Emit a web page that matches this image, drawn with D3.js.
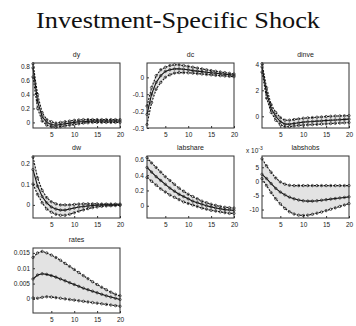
<!DOCTYPE html>
<html>
<head>
<meta charset="utf-8">
<script src="https://cdn.jsdelivr.net/npm/d3@7"></script>
<style>
  html, body { margin: 0; padding: 0; background: #fff; }
  svg { display: block; }
  .tick text { font-family: "Liberation Sans", Arial, sans-serif; font-size: 6.5px; fill: #222; }
</style>
</head>
<body>
<svg id="chart" width="356" height="326"></svg>
<script>
// Horizon (quarters after the shock)
const periods = [1,2,3,4,5,6,7,8,9,10,11,12,13,14,15,16,17,18,19,20];
const xTicks = [5, 10, 15, 20];

// Impulse responses: median and band bounds
const dyMed = [0.78,0.3,0.08,0.0,-0.03,-0.04,-0.03,-0.02,-0.01,0.0,0.01,0.01,0.015,0.02,0.02,0.02,0.02,0.02,0.02,0.02];
const dyUp  = [0.84,0.4,0.14,0.04,0.01,-0.01,0.0,0.01,0.02,0.03,0.035,0.04,0.04,0.04,0.04,0.04,0.04,0.04,0.04,0.04];
const dyLo  = [0.65,0.2,0.02,-0.04,-0.06,-0.07,-0.06,-0.05,-0.04,-0.03,-0.02,-0.01,-0.005,0.0,0.0,0.0,0.0,0.0,0.0,0.0];
const dyTicks = [0, 0.2, 0.4, 0.6, 0.8];

const dcMed = [-0.22,-0.1,-0.03,0.01,0.035,0.045,0.05,0.05,0.048,0.045,0.04,0.037,0.034,0.03,0.027,0.024,0.021,0.018,0.015,0.012];
const dcUp  = [-0.17,-0.06,0.01,0.045,0.06,0.07,0.075,0.074,0.07,0.065,0.06,0.055,0.05,0.045,0.04,0.036,0.032,0.028,0.024,0.02];
const dcLo  = [-0.28,-0.15,-0.07,-0.03,0.0,0.015,0.025,0.028,0.028,0.027,0.025,0.022,0.02,0.017,0.015,0.012,0.01,0.008,0.006,0.004];
const dcTicks = [-0.3, -0.2, -0.1, 0];

const dinveMed = [3.8,1.8,0.6,0.0,-0.4,-0.6,-0.6,-0.55,-0.5,-0.45,-0.42,-0.4,-0.37,-0.35,-0.32,-0.3,-0.28,-0.26,-0.24,-0.22];
const dinveUp  = [4.05,2.2,0.9,0.3,-0.1,-0.3,-0.3,-0.25,-0.2,-0.15,-0.12,-0.1,-0.07,-0.05,-0.02,0.0,0.02,0.03,0.04,0.05];
const dinveLo  = [3.4,1.4,0.3,-0.3,-0.65,-0.8,-0.8,-0.75,-0.7,-0.68,-0.66,-0.64,-0.62,-0.6,-0.58,-0.56,-0.54,-0.52,-0.5,-0.48];
const dinveTicks = [0, 2, 4];

const dwMed = [0.17,0.09,0.04,0.01,-0.01,-0.02,-0.025,-0.025,-0.02,-0.015,-0.01,-0.008,-0.005,-0.003,-0.002,0.0,0.0,0.0,0.0,0.0];
const dwUp  = [0.23,0.13,0.07,0.035,0.015,0.005,0.0,0.0,0.0,0.002,0.004,0.005,0.005,0.005,0.005,0.004,0.004,0.004,0.004,0.004];
const dwLo  = [0.1,0.05,0.01,-0.02,-0.035,-0.045,-0.05,-0.05,-0.045,-0.038,-0.03,-0.024,-0.018,-0.013,-0.01,-0.007,-0.005,-0.004,-0.003,-0.002];
const dwTicks = [0, 0.1, 0.2];

const labshareMed = [0.5,0.44,0.38,0.33,0.28,0.23,0.19,0.15,0.12,0.09,0.06,0.04,0.02,0.0,-0.015,-0.03,-0.04,-0.05,-0.055,-0.06];
const labshareUp  = [0.63,0.56,0.5,0.44,0.38,0.33,0.28,0.23,0.19,0.15,0.12,0.09,0.06,0.04,0.02,0.005,-0.01,-0.02,-0.025,-0.03];
const labshareLo  = [0.37,0.32,0.27,0.22,0.18,0.14,0.11,0.08,0.05,0.03,0.01,-0.01,-0.03,-0.045,-0.06,-0.07,-0.08,-0.09,-0.1,-0.1];
const labshareTicks = [0, 0.2, 0.4, 0.6];

const labshobsMed = [2.5,1.0,-0.8,-2.5,-3.8,-4.8,-5.6,-6.2,-6.6,-6.9,-7.0,-7.0,-6.9,-6.7,-6.5,-6.3,-6.1,-5.9,-5.7,-5.5];
const labshobsUp  = [8.0,5.5,3.2,1.2,-0.2,-1.0,-1.4,-1.5,-1.5,-1.5,-1.5,-1.5,-1.5,-1.5,-1.5,-1.5,-1.5,-1.5,-1.5,-1.5];
const labshobsLo  = [1.0,-1.5,-4.0,-6.2,-8.0,-9.6,-10.8,-11.6,-12.0,-12.1,-12.0,-11.7,-11.3,-10.9,-10.4,-9.9,-9.4,-8.9,-8.4,-7.9];
const labshobsTicks = [-10, -5, 0, 5];

const ratesMed = [0.0065,0.0078,0.0082,0.008,0.0076,0.0071,0.0065,0.0059,0.0053,0.0047,0.0041,0.0035,0.003,0.0025,0.002,0.0015,0.001,0.0006,0.0002,-0.0002];
const ratesUp  = [0.0135,0.015,0.0155,0.015,0.0143,0.0135,0.0126,0.0116,0.0106,0.0096,0.0086,0.0076,0.0066,0.0056,0.0047,0.0038,0.003,0.0022,0.0015,0.001];
const ratesLo  = [0.0003,0.0002,0.0005,0.0007,0.0006,0.0004,0.0002,0.0,-0.0002,-0.0004,-0.0006,-0.0008,-0.001,-0.0012,-0.0014,-0.0016,-0.0018,-0.002,-0.0022,-0.0024];
const ratesTicks = [0, 0.005, 0.01, 0.015];

// Panel layout: grid position, vertical extent and series
const panels = [
  { title: "dy",       col: 0, row: 0, domain: [-0.08, 0.85],    ticks: dyTicks,       med: dyMed,       up: dyUp,       lo: dyLo },
  { title: "dc",       col: 1, row: 0, domain: [-0.3, 0.085],    ticks: dcTicks,       med: dcMed,       up: dcUp,       lo: dcLo },
  { title: "dinve",    col: 2, row: 0, domain: [-0.9, 4.1],      ticks: dinveTicks,    med: dinveMed,    up: dinveUp,    lo: dinveLo },
  { title: "dw",       col: 0, row: 1, domain: [-0.063, 0.235],  ticks: dwTicks,       med: dwMed,       up: dwUp,       lo: dwLo },
  { title: "labshare", col: 1, row: 1, domain: [-0.16, 0.65],    ticks: labshareTicks, med: labshareMed, up: labshareUp, lo: labshareLo },
  { title: "labshobs", col: 2, row: 1, domain: [-13, 9],         ticks: labshobsTicks, med: labshobsMed, up: labshobsUp, lo: labshobsLo, scale: 3 },
  { title: "rates",    col: 0, row: 2, domain: [-0.0046, 0.0166], ticks: ratesTicks,   med: ratesMed,    up: ratesUp,    lo: ratesLo }
];

const colLeft = [33, 147, 262];
const panelW = 87;
const rowTop = [63, 156, 248];
const rowH = [65, 62, 65];

const svg = d3.select("#chart");

svg.append("text")
  .attr("x", 178).attr("y", 28)
  .attr("text-anchor", "middle")
  .attr("textLength", 284)
  .attr("lengthAdjust", "spacingAndGlyphs")
  .style("font-family", "'Liberation Serif', 'Times New Roman', serif")
  .style("font-size", "23px")
  .style("fill", "#111")
  .text("Investment-Specific Shock");

panels.forEach(p => {
  const x0 = colLeft[p.col], y0 = rowTop[p.row], h = rowH[p.row];
  const g = svg.append("g").attr("transform", `translate(${x0},${y0})`);

  const x = d3.scaleLinear().domain([1, 20]).range([0, panelW]);
  const y = d3.scaleLinear().domain(p.domain).range([h, 0]);

  // shaded band between bounds
  const band = d3.area()
    .x((d, i) => x(periods[i]))
    .y0((d, i) => y(p.lo[i]))
    .y1((d, i) => y(p.up[i]));
  g.append("path").datum(p.med).attr("d", band)
    .attr("fill", "#e3e3e3").attr("stroke", "none");

  const line = d3.line().x((d, i) => x(periods[i])).y(d => y(d));
  [p.up, p.med, p.lo].forEach((s, k) => {
    g.append("path").datum(s).attr("d", line)
      .attr("fill", "none").attr("stroke", "#111")
      .attr("stroke-width", 1.1)
      .attr("stroke-dasharray", k === 1 ? null : "2,1.2");
    g.selectAll(null).data(s).enter().append("circle")
      .attr("cx", (d, i) => x(periods[i]))
      .attr("cy", d => y(d))
      .attr("r", 1.2)
      .attr("fill", "none").attr("stroke", "#222").attr("stroke-width", 0.7);
  });

  // axes with inward ticks
  g.append("g").call(d3.axisLeft(y).tickValues(p.ticks).tickSize(-2).tickPadding(3).tickFormat(d => String(d)))
    .call(a => a.select(".domain").remove())
    .call(a => a.selectAll("line").attr("stroke", "#333"));
  g.append("g").attr("transform", `translate(0,${h})`)
    .call(d3.axisBottom(x).tickValues(xTicks).tickSize(-2).tickPadding(4).tickFormat(d => String(d)))
    .call(a => a.select(".domain").remove())
    .call(a => a.selectAll("line").attr("stroke", "#333"));

  // box
  g.append("rect").attr("x", 0).attr("y", 0).attr("width", panelW).attr("height", h)
    .attr("fill", "none").attr("stroke", "#333").attr("stroke-width", 1);

  g.append("text")
    .attr("x", panelW / 2).attr("y", -6)
    .attr("text-anchor", "middle")
    .style("font-family", "'Liberation Sans', Arial, sans-serif")
    .style("font-size", "7px")
    .style("fill", "#222")
    .text(p.title);

  if (p.scale) {
    const t = g.append("text")
      .attr("x", -16).attr("y", -3)
      .style("font-family", "'Liberation Sans', Arial, sans-serif")
      .style("font-size", "6.5px")
      .style("fill", "#222");
    t.append("tspan").text("x 10");
    t.append("tspan").attr("dy", -3).style("font-size", "5px").text("-" + p.scale);
  }
});
</script>
</body>
</html>
